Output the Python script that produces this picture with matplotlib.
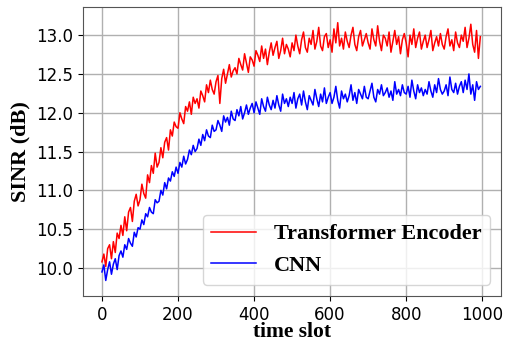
import matplotlib.pyplot as plt

# time slots sampled every 5 slots
time_slot = list(range(0, 1000, 5))

transformer_sinr = [
    10.08, 10.18, 10.02, 10.25, 10.30, 10.12, 10.34, 10.20, 10.45, 10.38,
    10.55, 10.42, 10.66, 10.48, 10.72, 10.78, 10.60, 10.86, 10.95, 10.80,
    10.88, 11.08, 10.96, 10.90, 11.20, 11.10, 11.32, 11.22, 11.48, 11.30,
    11.36, 11.55, 11.42, 11.62, 11.68, 11.52, 11.78, 11.70, 11.88, 11.82,
    11.80, 12.00, 11.92, 11.86, 12.08, 12.02, 12.14, 11.98, 12.20, 12.12,
    12.18, 12.06, 12.28, 12.22, 12.14, 12.36, 12.26, 12.42, 12.30, 12.24,
    12.40, 12.48, 12.12, 12.44, 12.56, 12.38, 12.50, 12.62, 12.46, 12.54,
    12.58, 12.50, 12.70, 12.62, 12.55, 12.76, 12.64, 12.52, 12.72, 12.68,
    12.60, 12.80, 12.74, 12.66, 12.86, 12.70, 12.82, 12.62, 12.78, 12.90,
    12.74, 12.84, 12.92, 12.70, 12.80, 12.96, 12.76, 12.88, 12.82, 12.72,
    12.90, 12.80, 13.00, 12.86, 12.76, 12.94, 13.04, 12.84, 12.78, 12.96,
    12.88, 13.06, 12.82, 12.92, 13.10, 12.86, 12.80, 12.98, 13.02, 12.84,
    12.94, 12.78, 13.08, 12.90, 13.16, 12.86, 12.96, 12.82, 13.04, 12.92,
    12.84, 13.00, 13.10, 12.88, 12.80, 12.98, 13.06, 12.86, 12.94, 13.02,
    12.90, 12.82, 13.08, 12.94, 12.86, 13.12, 12.92, 12.80, 13.00, 12.96,
    12.86, 13.04, 12.78, 12.92, 13.06, 12.88, 12.98, 12.76, 12.94, 13.02,
    12.90, 12.72, 13.00, 12.88, 13.08, 12.84, 12.96, 13.04, 12.82, 12.92,
    13.00, 12.84, 12.94, 13.06, 12.80, 12.90, 12.98, 12.86, 13.02, 12.88,
    12.82, 12.98, 13.08, 12.86, 12.94, 12.80, 13.04, 12.90, 12.84, 13.00,
    12.92, 13.10, 12.84, 12.96, 13.14, 12.88, 12.78, 13.06, 12.70, 12.98,
]

cnn_sinr = [
    9.95, 10.04, 9.84, 9.98, 10.08, 9.92, 10.05, 10.12, 9.98, 10.16,
    10.22, 10.14, 10.30, 10.24, 10.38, 10.32, 10.28, 10.46, 10.40, 10.52,
    10.50, 10.62, 10.56, 10.70, 10.66, 10.78, 10.72, 10.70, 10.88, 10.84,
    10.86, 11.00, 10.94, 11.10, 11.02, 11.16, 11.12, 11.24, 11.18, 11.30,
    11.22, 11.36, 11.30, 11.44, 11.34, 11.40, 11.52, 11.46, 11.58, 11.50,
    11.54, 11.66, 11.58, 11.72, 11.64, 11.78, 11.70, 11.68, 11.84, 11.76,
    11.78, 11.90, 11.84, 11.76, 11.96, 11.88, 11.94, 11.84, 12.02, 11.92,
    11.90, 12.04, 11.96, 12.08, 11.92, 12.00, 12.10, 11.98, 12.06, 12.12,
    12.00, 12.14, 12.06, 11.98, 12.18, 12.08, 12.02, 12.20, 12.10, 12.04,
    12.16, 12.06, 12.22, 12.10, 12.02, 12.24, 12.12, 12.18, 12.08, 12.20,
    12.12, 12.26, 12.06, 12.18, 12.24, 12.10, 12.28, 12.14, 12.04, 12.22,
    12.16, 12.10, 12.30, 12.18, 12.08, 12.24, 12.14, 12.32, 12.12, 12.20,
    12.26, 12.12, 12.20, 12.34, 12.16, 12.06, 12.28, 12.18, 12.24, 12.14,
    12.22, 12.36, 12.16, 12.26, 12.12, 12.30, 12.24, 12.18, 12.34, 12.20,
    12.18, 12.28, 12.38, 12.20, 12.14, 12.30, 12.24, 12.36, 12.22, 12.26,
    12.32, 12.20, 12.28, 12.16, 12.40, 12.24, 12.30, 12.22, 12.36, 12.26,
    12.24, 12.34, 12.20, 12.42, 12.28, 12.18, 12.36, 12.26, 12.32, 12.22,
    12.30, 12.24, 12.40, 12.28, 12.20, 12.36, 12.26, 12.44, 12.30, 12.24,
    12.28, 12.36, 12.22, 12.46, 12.30, 12.26, 12.38, 12.24, 12.34, 12.40,
    12.26, 12.42, 12.30, 12.50, 12.24, 12.36, 12.16, 12.40, 12.30, 12.34,
]

serif_bold = {'family': 'Liberation Serif', 'weight': 'bold'}

fig = plt.figure(figsize=(5.12, 3.41), dpi=100)
ax = fig.add_axes([0.162, 0.132, 0.817, 0.847])

ax.plot(time_slot, transformer_sinr, color='red', lw=1.1, label='Transformer Encoder')
ax.plot(time_slot, cnn_sinr, color='blue', lw=1.1, label='CNN')

ax.set_xlim(-50, 1050)
ax.set_ylim(9.64, 13.36)
ax.set_xticks([0, 200, 400, 600, 800, 1000])
ax.set_yticks([10.0, 10.5, 11.0, 11.5, 12.0, 12.5, 13.0])
ax.tick_params(labelsize=12)
ax.grid(True, color='#b0b0b0', lw=1.0)
for s in ax.spines.values():
    s.set_color('#555555')

ax.set_xlabel('time slot', fontdict=serif_bold, fontsize=15.5, labelpad=-1.5)
ax.set_ylabel('SINR (dB)', fontdict=serif_bold, fontsize=16, labelpad=4)

leg = ax.legend(loc='lower right', prop={'family': 'Liberation Serif', 'weight': 'bold', 'size': 16},
                handlelength=2.0)

fig.savefig('out.png', dpi=100)
